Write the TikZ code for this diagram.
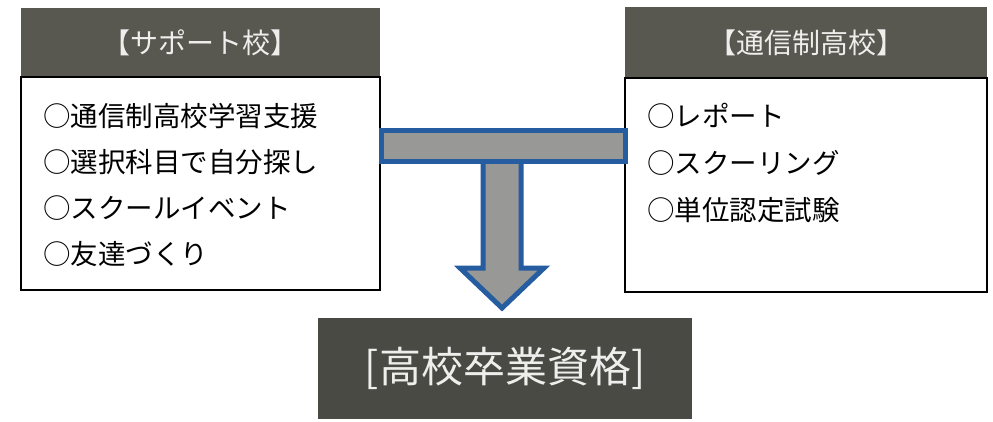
\documentclass[tikz,border=0pt]{standalone}
\usepackage{fontspec}
\setmainfont{Noto Sans CJK JP}
\definecolor{hdrgray}{RGB}{88,88,80}
\definecolor{botgray}{RGB}{74,74,68}
\definecolor{arrowgray}{RGB}{152,152,150}
\definecolor{arrowblue}{RGB}{38,92,160}
\definecolor{lighttext}{RGB}{238,238,236}
\tikzset{
  hdr/.style={fill=hdrgray, text=lighttext, font=\fontsize{28pt}{32pt}\selectfont, inner sep=0pt},
  itembox/.style={draw=black, line width=2pt, fill=white, inner sep=0pt},
  item/.style={anchor=west, font=\fontsize{27.5pt}{32pt}\selectfont, inner sep=0pt, text=black},
  result/.style={fill=botgray, text=lighttext, font=\fontsize{42pt}{48pt}\selectfont, inner sep=0pt},
  tshape/.style={fill=arrowgray, draw=arrowblue, line width=5pt, line join=miter}
}
\begin{document}
\begin{tikzpicture}[x=1pt, y=-1pt]
\useasboundingbox (0,0) rectangle (993,421);
\fill[white] (0,0) rectangle (993,421);
% headers
\node[hdr, minimum width=359pt, minimum height=69pt] (lh) at (200.5,42.5) {【サポート校】};
\node[hdr, minimum width=362pt, minimum height=71pt] (rh) at (806,42.5) {【通信制高校】};
% boxes
\node[itembox, minimum width=359pt, minimum height=213pt] (lbox) at (200.5,183.5) {};
\node[itembox, minimum width=362pt, minimum height=214pt] (rbox) at (806,185) {};
% items
\node[item] (l1) at (43,116) {○通信制高校学習支援};
\node[item] (l2) at (43,162) {○選択科目で自分探し};
\node[item] (l3) at (43,208) {○スクールイベント};
\node[item] (l4) at (43,254) {○友達づくり};
\node[item] (r1) at (647,116) {○レポート};
\node[item] (r2) at (647,163) {○スクーリング};
\node[item] (r3) at (647,210) {○単位認定試験};
% result
\node[result, minimum width=374pt, minimum height=101pt] (res) at (505,368.5) {[高校卒業資格]};
% T-shaped arrow
\coordinate (barTL) at (lbox.east |- 0,130);
\coordinate (barBR) at (rbox.west |- 0,161);
\coordinate (tip) at (502,308);
\draw[tshape] (483,160) -- (483,268) -- (460,268) -- (tip) -- (544,268) -- (521,268) -- (521,160) -- cycle;
\draw[tshape] ([xshift=0pt]barTL) rectangle ([xshift=1pt]barBR);
\end{tikzpicture}
\end{document}
